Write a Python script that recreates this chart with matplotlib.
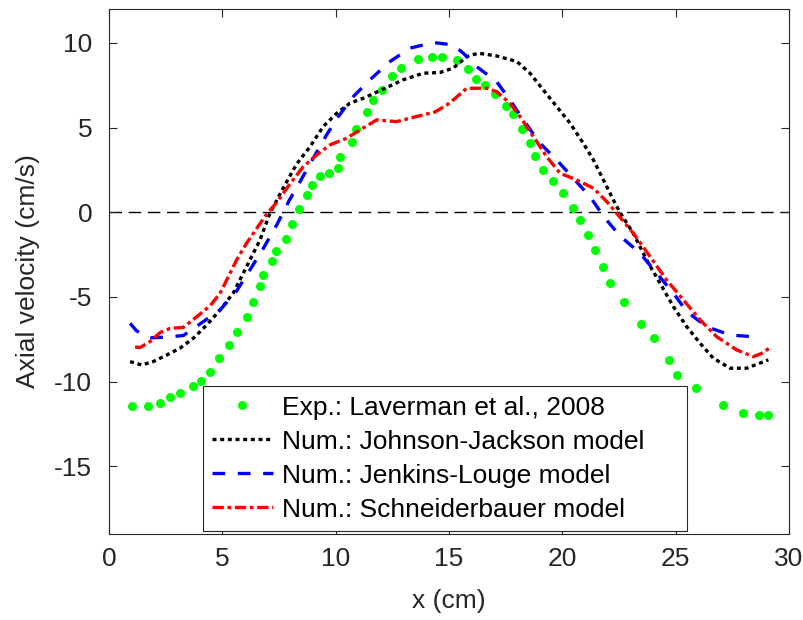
import matplotlib
matplotlib.use("Agg")
import matplotlib.pyplot as plt

plt.rcParams['font.family'] = ['Liberation Sans', 'DejaVu Sans']
plt.rcParams['axes.unicode_minus'] = False

# experimental data (Laverman et al., 2008)
exp_x = [1.01, 1.71, 2.27, 2.67, 3.15, 3.71, 4.06, 4.47, 4.87, 5.30, 5.66, 6.07, 6.35,
         6.64, 6.81, 7.18, 7.37, 7.79, 8.06, 8.38, 8.75, 8.94, 9.31, 9.72, 10.09, 10.19,
         10.71, 10.90, 11.37, 11.66, 12.03, 12.50, 12.88, 13.62, 14.24, 14.69, 15.37,
         15.83, 16.17, 16.59, 17.03, 17.51, 17.84, 18.23, 18.56, 18.79, 19.15, 19.60,
         20.04, 20.46, 20.80, 21.15, 21.43, 21.81, 22.10, 22.72, 23.48, 24.04, 24.72,
         25.07, 25.90, 27.07, 27.97, 28.66, 29.09]
exp_v = [-11.47, -11.47, -11.26, -10.93, -10.66, -10.26, -9.96, -9.45, -8.62, -7.86,
         -7.05, -6.18, -5.28, -4.35, -3.70, -2.86, -2.27, -1.57, -0.69, 0.21, 1.02, 1.61,
         2.14, 2.30, 2.60, 3.28, 4.17, 4.92, 5.94, 6.63, 7.22, 8.07, 8.51, 9.05, 9.16,
         9.16, 9.00, 8.45, 7.86, 7.51, 7.01, 6.27, 5.82, 4.90, 4.08, 3.33, 2.50, 1.85,
         1.12, 0.27, -0.45, -1.37, -2.23, -3.23, -4.18, -5.28, -6.58, -7.40, -8.71,
         -9.62, -10.38, -11.38, -11.84, -11.97, -11.97]

# Johnson-Jackson model
jj_x = [0.93, 1.44, 1.95, 2.55, 3.13, 3.72, 4.31, 4.90, 5.48, 6.07, 6.66, 7.10, 7.69,
        8.28, 8.87, 9.45, 10.05, 10.63, 11.22, 12.10, 12.98, 13.87, 14.60, 15.19, 15.78,
        16.29, 17.10, 17.99, 18.57, 19.16, 19.75, 20.34, 20.92, 21.37, 21.81, 22.25,
        22.54, 23.13, 23.72, 24.31, 24.90, 25.49, 26.08, 26.66, 27.40, 28.13, 29.09]
jj_v = [-8.82, -9.02, -8.82, -8.43, -8.03, -7.44, -6.66, -5.77, -4.78, -3.21, -1.64,
        -0.06, 1.44, 2.85, 3.87, 5.06, 5.85, 6.44, 6.73, 7.27, 7.82, 8.21, 8.25, 8.51,
        9.19, 9.39, 9.23, 8.90, 8.21, 7.22, 6.24, 5.26, 4.08, 3.09, 1.91, 0.73, -0.01,
        -1.24, -2.82, -4.19, -5.58, -6.76, -7.74, -8.62, -9.21, -9.21, -8.72]

# Jenkins-Louge model
jl_x = [0.93, 1.22, 1.81, 2.55, 3.28, 4.01, 4.90, 5.63, 6.22, 6.81, 7.40, 7.94, 8.43,
        9.01, 9.60, 10.12, 10.78, 11.51, 12.40, 13.28, 14.31, 15.19, 15.63, 16.22, 17.10,
        17.69, 18.28, 19.01, 19.75, 20.48, 21.22, 21.84, 22.54, 23.43, 24.16, 24.90,
        25.49, 26.37, 27.40, 28.72]
jl_v = [-6.56, -7.01, -7.42, -7.37, -7.28, -6.60, -5.77, -4.65, -3.40, -2.13, -0.75,
        0.67, 1.81, 3.19, 4.57, 5.65, 6.83, 7.82, 8.90, 9.69, 10.02, 9.88, 9.39, 8.60,
        7.71, 6.63, 5.45, 4.08, 3.09, 2.01, 0.92, -0.28, -1.40, -2.42, -3.60, -4.78,
        -5.87, -6.76, -7.25, -7.38]

# Schneiderbauer model
sb_x = [1.15, 1.37, 1.81, 2.25, 2.69, 3.28, 3.87, 4.46, 4.90, 5.26, 5.63, 6.07, 6.52,
        6.96, 7.40, 7.90, 8.57, 9.16, 9.75, 10.49, 11.07, 11.81, 12.69, 13.57, 14.38,
        14.91, 15.19, 15.78, 16.66, 17.10, 17.69, 18.13, 18.72, 19.31, 19.90, 20.63,
        21.37, 21.96, 22.46, 23.13, 23.87, 24.60, 25.34, 26.08, 26.81, 27.69, 28.43,
        28.80, 29.13]
sb_v = [-7.96, -7.99, -7.64, -7.11, -6.86, -6.80, -6.17, -5.53, -4.78, -3.82, -2.82,
        -1.83, -0.95, -0.10, 0.58, 1.52, 2.69, 3.38, 3.98, 4.37, 4.86, 5.45, 5.35, 5.65,
        5.92, 6.34, 6.63, 7.32, 7.32, 7.12, 6.43, 5.65, 4.47, 3.28, 2.30, 1.91, 1.42,
        0.63, -0.16, -1.24, -2.62, -4.00, -5.18, -6.36, -7.35, -8.13, -8.53, -8.33, -8.03]

labels = ['Exp.: Laverman et al., 2008', 'Num.: Johnson-Jackson model',
          'Num.: Jenkins-Louge model', 'Num.: Schneiderbauer model']

fig = plt.figure(figsize=(8.04, 6.2), dpi=100)
ax = fig.add_axes([109 / 804, 1 - 534 / 620, 680 / 804, 525 / 620])

ax.axhline(0, color='black', lw=1.0, linestyle=(0, (9, 4.8)), zorder=1)

ax.plot(exp_x, exp_v, 'o', color='#00ff00', ms=6.5, mec='none', label=labels[0], zorder=2)
ax.plot(jj_x, jj_v, color='black', lw=2.4, linestyle=(0, (1.2, 1.1)), label=labels[1], zorder=3)
ax.plot(jl_x, jl_v, color='blue', lw=2.4, linestyle=(0, (3.8, 3.8)), label=labels[2], zorder=4)
ax.plot(sb_x, sb_v, color='red', lw=2.4, linestyle=(0, (3.4, 1.1, 1.1, 1.1)), label=labels[3], zorder=5)

ax.set_xlim(0, 30)
ax.set_ylim(-19, 12)
ax.set_xticks([0, 5, 10, 15, 20, 25, 30])
ax.set_yticks([-15, -10, -5, 0, 5, 10])

ax.tick_params(direction='in', length=5.5, width=0.8, colors='#262626', labelsize=19,
               top=True, right=True)
ax.tick_params(axis='y', pad=12)
ax.tick_params(axis='x', pad=9)
for s in ax.spines.values():
    s.set_color('#262626')
    s.set_linewidth(0.8)

ax.set_xlabel('x (cm)', fontsize=19, color='#262626', labelpad=13)
ax.set_ylabel('Axial velocity (cm/s)', fontsize=19, color='#262626', labelpad=10)

leg = ax.legend(loc='lower left', bbox_to_anchor=(0.138, 0.006, 0.712, 0.274),
                mode='expand', borderaxespad=0,
                fontsize=19, fancybox=False, framealpha=1, edgecolor='#262626',
                handlelength=2.3, handletextpad=0.35, labelspacing=0.38,
                borderpad=0.35, numpoints=1)
leg.get_frame().set_linewidth(0.8)

fig.savefig('out.png', dpi=100)
